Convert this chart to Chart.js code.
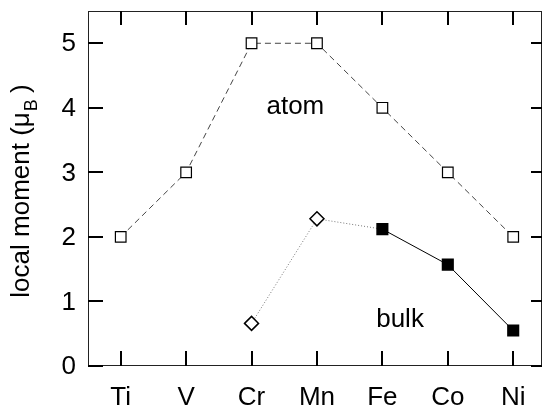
<!DOCTYPE html>
<html>
<head>
<meta charset="utf-8">
<script src="https://cdn.jsdelivr.net/npm/chart.js@4/dist/chart.umd.min.js"></script>
<style>
  html, body { margin: 0; padding: 0; background: #fff; }
  #wrap { width: 551px; height: 409px; }
</style>
</head>
<body>
<div id="wrap"><canvas id="momentChart" width="551" height="409"></canvas></div>
<script>
const elements  = ["Ti", "V", "Cr", "Mn", "Fe", "Co", "Ni"];
const atomMoment = [2, 3, 5, 5, 4, 3, 2];
const bulkMoment = [null, null, 0.66, 2.28, 2.12, 1.57, 0.55];
const yTicks = [0, 1, 2, 3, 4, 5];

const FONT = "26px 'Liberation Sans', Arial, sans-serif";
const SUB_FONT = "18px 'Liberation Sans', Arial, sans-serif";

const toPoints = vals => vals.map((v, i) => ({ x: i, y: v })).filter(p => p.y !== null);
const bulkPts = toPoints(bulkMoment);
// open diamonds where the bulk moment is only estimated, filled squares otherwise
const bulkStyle = bulkPts.map(p => p.x < 4 ? "rectRot" : "rect");
const bulkFill  = bulkPts.map(p => p.x < 4 ? "#fff" : "#000");

const textLabels = [
  { text: "atom", x: 2.67, y: 3.9 },
  { text: "bulk", x: 4.27, y: 0.6 }
];

const frame = {
  id: "frame",
  afterDatasetsDraw(chart) {
    const { ctx, chartArea: a, scales: { x, y } } = chart;
    ctx.save();
    ctx.strokeStyle = "#222";
    ctx.lineWidth = 1;
    ctx.strokeRect(a.left + 0.5, a.top + 0.5, a.right - a.left - 1, a.bottom - a.top - 1);

    ctx.strokeStyle = "#000";
    ctx.lineWidth = 2;
    ctx.beginPath();
    elements.forEach((_, i) => {
      const px = Math.round(x.getPixelForValue(i));
      ctx.moveTo(px, a.bottom); ctx.lineTo(px, a.bottom - 15);
      ctx.moveTo(px, a.top);    ctx.lineTo(px, a.top + 14);
    });
    yTicks.forEach(v => {
      const py = Math.round(y.getPixelForValue(v));
      ctx.moveTo(a.left, py);  ctx.lineTo(a.left + 15, py);
      ctx.moveTo(a.right, py); ctx.lineTo(a.right - 11, py);
    });
    ctx.stroke();

    ctx.fillStyle = "#000";
    ctx.font = FONT;
    ctx.textAlign = "center";
    ctx.textBaseline = "alphabetic";
    elements.forEach((el, i) => ctx.fillText(el, x.getPixelForValue(i), a.bottom + 39));
    ctx.textAlign = "right";
    ctx.textBaseline = "middle";
    yTicks.forEach(v => ctx.fillText(String(v), a.left - 12, y.getPixelForValue(v) + 1));

    ctx.textAlign = "center";
    ctx.textBaseline = "alphabetic";
    textLabels.forEach(l => ctx.fillText(l.text, x.getPixelForValue(l.x), y.getPixelForValue(l.y)));

    // rotated axis title with subscript B
    const main = "local moment (\u03bc", sub = "B", tail = " )";
    ctx.font = FONT;
    const wMain = ctx.measureText(main).width, wTail = ctx.measureText(tail).width;
    ctx.font = SUB_FONT;
    const wSub = ctx.measureText(sub).width;
    const total = wMain + wSub + wTail;
    ctx.translate(29, 191);
    ctx.rotate(-Math.PI / 2);
    ctx.textAlign = "left";
    let cx = -total / 2;
    ctx.font = FONT;
    ctx.fillText(main, cx, 0); cx += wMain;
    ctx.font = SUB_FONT;
    ctx.fillText(sub, cx + 1, 8); cx += wSub;
    ctx.font = FONT;
    ctx.fillText(tail, cx, 0);
    ctx.restore();
  }
};

new Chart(document.getElementById("momentChart"), {
  type: "line",
  data: {
    datasets: [
      {
        label: "atom",
        data: toPoints(atomMoment),
        borderColor: "#444",
        borderWidth: 1,
        borderDash: [6, 4],
        pointStyle: "rect",
        pointRadius: 7.5,
        pointBorderWidth: 1.2,
        pointBorderColor: "#000",
        pointBackgroundColor: "#fff",
        tension: 0
      },
      {
        label: "bulk",
        data: bulkPts,
        borderColor: "#000",
        borderWidth: 1,
        segment: {
          borderDash: c => c.p0DataIndex < 2 ? [1, 2] : undefined,
          borderColor: c => c.p0DataIndex < 2 ? "#777" : "#000"
        },
        pointStyle: bulkStyle,
        pointRadius: bulkPts.map(p => p.x < 4 ? 7 : 7.5),
        pointBorderWidth: 1.5,
        pointBorderColor: "#000",
        pointBackgroundColor: bulkFill,
        tension: 0
      }
    ]
  },
  options: {
    responsive: false,
    animation: false,
    events: [],
    layout: { padding: { left: 88, top: 11, right: 2, bottom: 43 } },
    plugins: { legend: { display: false }, tooltip: { enabled: false } },
    scales: {
      x: { type: "linear", display: false, min: -0.5, max: 6.44 },
      y: { type: "linear", display: false, min: 0, max: 5.5 }
    }
  },
  plugins: [frame]
});
</script>
</body>
</html>
